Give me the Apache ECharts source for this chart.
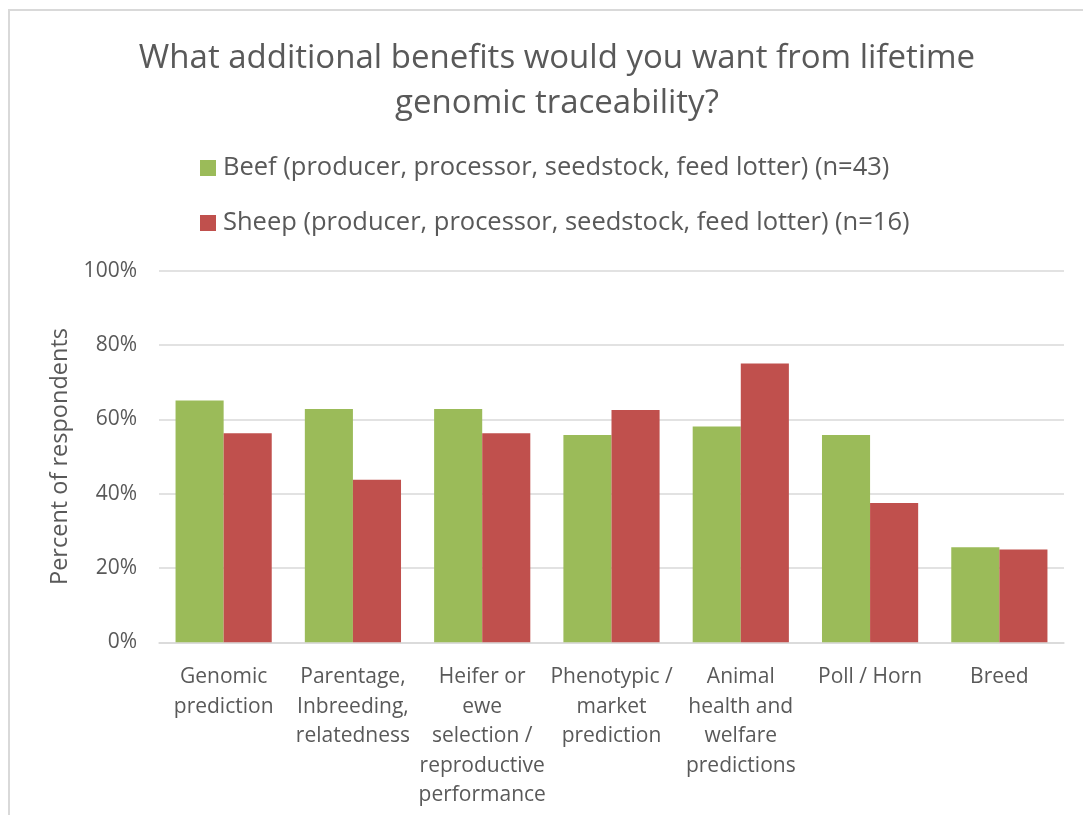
<!DOCTYPE html>
<html>
<head>
<meta charset="utf-8">
<script src="https://cdn.jsdelivr.net/npm/echarts@6/dist/echarts.min.js"></script>
<style>
  html, body { margin: 0; padding: 0; background: #ffffff; }
  #chart { width: 1083px; height: 815px; }
</style>
</head>
<body>
<div id="chart"></div>
<script>
// Benefit categories (line breaks as they wrap under the axis)
const categories = [
  'Genomic\nprediction',
  'Parentage,\nInbreeding,\nrelatedness',
  'Heifer or\newe\nselection /\nreproductive\nperformance',
  'Phenotypic /\nmarket\nprediction',
  'Animal\nhealth and\nwelfare\npredictions',
  'Poll / Horn',
  'Breed'
];

// Share of respondents (%) choosing each benefit
const beefValues  = [65.1, 62.8, 62.8, 55.8, 58.1, 55.8, 25.6];
const sheepValues = [56.25, 43.75, 56.25, 62.5, 75.0, 37.5, 25.0];

const seriesNames = [
  'Beef (producer, processor, seedstock, feed lotter) (n=43)',
  'Sheep (producer, processor, seedstock, feed lotter) (n=16)'
];

const titleText = 'What additional benefits would you want from lifetime\ngenomic traceability?';
const yAxisName = 'Percent of respondents';

const FONT = '"Open Sans", Lato, sans-serif';
const TEXT = '#595959';

const chart = echarts.init(document.getElementById('chart'), null, { renderer: 'canvas' });

chart.setOption({
  backgroundColor: '#ffffff',
  animation: false,
  graphic: [{
    type: 'rect',
    shape: { x: 9, y: 10, width: 1200, height: 900 },
    style: { fill: 'none', stroke: '#d9d9d9', lineWidth: 2 },
    silent: true
  }],
  title: {
    text: titleText,
    left: 552,
    top: 31,
    textAlign: 'center',
    textStyle: {
      fontFamily: FONT,
      fontSize: 33,
      fontWeight: 'normal',
      color: TEXT,
      lineHeight: 45
    }
  },
  legend: {
    orient: 'vertical',
    left: 195,
    top: 150,
    itemWidth: 16,
    itemHeight: 16,
    itemGap: 29,
    icon: 'rect',
    data: seriesNames,
    textStyle: { fontFamily: FONT, fontSize: 25.5, color: TEXT, padding: [0, 0, 0, 2] }
  },
  grid: {
    left: 159,
    right: 19,
    top: 270.7,
    bottom: 172.7,
    containLabel: false
  },
  xAxis: {
    type: 'category',
    data: categories,
    axisLine: { show: true, lineStyle: { color: '#d9d9d9', width: 1.5 } },
    axisTick: { show: false },
    axisLabel: {
      interval: 0,
      margin: 20,
      fontFamily: FONT,
      fontSize: 21,
      lineHeight: 29.6,
      color: TEXT,
      verticalAlign: 'top'
    }
  },
  yAxis: {
    type: 'value',
    min: 0,
    max: 100,
    interval: 20,
    name: yAxisName,
    nameLocation: 'middle',
    nameGap: 86,
    nameTextStyle: { fontFamily: FONT, fontSize: 23.5, color: TEXT },
    axisLine: { show: false },
    axisTick: { show: false },
    splitLine: { lineStyle: { color: '#d9d9d9', width: 1.5 } },
    axisLabel: {
      formatter: '{value}%',
      margin: 22,
      fontFamily: FONT,
      fontSize: 21,
      color: TEXT
    }
  },
  series: [
    {
      name: seriesNames[0],
      type: 'bar',
      data: beefValues,
      barGap: '0%',
      barCategoryGap: '25.6%',
      itemStyle: { color: '#9BBB59' }
    },
    {
      name: seriesNames[1],
      type: 'bar',
      data: sheepValues,
      barGap: '0%',
      barCategoryGap: '25.6%',
      itemStyle: { color: '#C0504D' }
    }
  ]
});
</script>
</body>
</html>
